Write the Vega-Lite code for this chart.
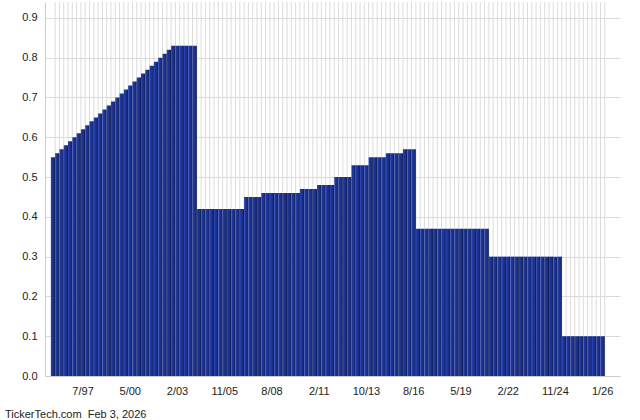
{
  "$schema": "https://vega.github.io/schema/vega-lite/v6.json",
  "width": 575,
  "height": 374,
  "autosize": {"type": "none"},
  "padding": {"left": 45, "top": 2, "right": 20, "bottom": 44},
  "background": "#ffffff",
  "config": {
    "view": {"stroke": null},
    "font": "Liberation Sans",
    "axis": {"labelFont": "Liberation Sans", "labelFontSize": 11, "labelColor": "#222222"}
  },
  "title": {
    "text": "TickerTech.com \u00a0Feb 3, 2026",
    "orient": "bottom",
    "anchor": "start",
    "frame": "group",
    "dx": -40,
    "offset": 13,
    "fontSize": 11,
    "fontWeight": "normal",
    "font": "Liberation Sans",
    "color": "#222222"
  },
  "data": {
    "values": [
      {"i": 0, "v": 0.55}, {"i": 1, "v": 0.56}, {"i": 2, "v": 0.57}, {"i": 3, "v": 0.58},
      {"i": 4, "v": 0.59}, {"i": 5, "v": 0.60}, {"i": 6, "v": 0.61}, {"i": 7, "v": 0.62},
      {"i": 8, "v": 0.63}, {"i": 9, "v": 0.64}, {"i": 10, "v": 0.65}, {"i": 11, "v": 0.66},
      {"i": 12, "v": 0.67}, {"i": 13, "v": 0.68}, {"i": 14, "v": 0.69}, {"i": 15, "v": 0.70},
      {"i": 16, "v": 0.71}, {"i": 17, "v": 0.72}, {"i": 18, "v": 0.73}, {"i": 19, "v": 0.74},
      {"i": 20, "v": 0.75}, {"i": 21, "v": 0.76}, {"i": 22, "v": 0.77}, {"i": 23, "v": 0.78},
      {"i": 24, "v": 0.79}, {"i": 25, "v": 0.80}, {"i": 26, "v": 0.81}, {"i": 27, "v": 0.82},
      {"i": 28, "v": 0.83}, {"i": 29, "v": 0.83}, {"i": 30, "v": 0.83}, {"i": 31, "v": 0.83},
      {"i": 32, "v": 0.83}, {"i": 33, "v": 0.83},
      {"i": 34, "v": 0.42}, {"i": 35, "v": 0.42}, {"i": 36, "v": 0.42}, {"i": 37, "v": 0.42},
      {"i": 38, "v": 0.42}, {"i": 39, "v": 0.42}, {"i": 40, "v": 0.42}, {"i": 41, "v": 0.42},
      {"i": 42, "v": 0.42}, {"i": 43, "v": 0.42}, {"i": 44, "v": 0.42},
      {"i": 45, "v": 0.45}, {"i": 46, "v": 0.45}, {"i": 47, "v": 0.45}, {"i": 48, "v": 0.45},
      {"i": 49, "v": 0.46}, {"i": 50, "v": 0.46}, {"i": 51, "v": 0.46}, {"i": 52, "v": 0.46},
      {"i": 53, "v": 0.46}, {"i": 54, "v": 0.46}, {"i": 55, "v": 0.46}, {"i": 56, "v": 0.46},
      {"i": 57, "v": 0.46},
      {"i": 58, "v": 0.47}, {"i": 59, "v": 0.47}, {"i": 60, "v": 0.47}, {"i": 61, "v": 0.47},
      {"i": 62, "v": 0.48}, {"i": 63, "v": 0.48}, {"i": 64, "v": 0.48}, {"i": 65, "v": 0.48},
      {"i": 66, "v": 0.50}, {"i": 67, "v": 0.50}, {"i": 68, "v": 0.50}, {"i": 69, "v": 0.50},
      {"i": 70, "v": 0.53}, {"i": 71, "v": 0.53}, {"i": 72, "v": 0.53}, {"i": 73, "v": 0.53},
      {"i": 74, "v": 0.55}, {"i": 75, "v": 0.55}, {"i": 76, "v": 0.55}, {"i": 77, "v": 0.55},
      {"i": 78, "v": 0.56}, {"i": 79, "v": 0.56}, {"i": 80, "v": 0.56}, {"i": 81, "v": 0.56},
      {"i": 82, "v": 0.57}, {"i": 83, "v": 0.57}, {"i": 84, "v": 0.57},
      {"i": 85, "v": 0.37}, {"i": 86, "v": 0.37}, {"i": 87, "v": 0.37}, {"i": 88, "v": 0.37},
      {"i": 89, "v": 0.37}, {"i": 90, "v": 0.37}, {"i": 91, "v": 0.37}, {"i": 92, "v": 0.37},
      {"i": 93, "v": 0.37}, {"i": 94, "v": 0.37}, {"i": 95, "v": 0.37}, {"i": 96, "v": 0.37},
      {"i": 97, "v": 0.37}, {"i": 98, "v": 0.37}, {"i": 99, "v": 0.37}, {"i": 100, "v": 0.37},
      {"i": 101, "v": 0.37},
      {"i": 102, "v": 0.30}, {"i": 103, "v": 0.30}, {"i": 104, "v": 0.30}, {"i": 105, "v": 0.30},
      {"i": 106, "v": 0.30}, {"i": 107, "v": 0.30}, {"i": 108, "v": 0.30}, {"i": 109, "v": 0.30},
      {"i": 110, "v": 0.30}, {"i": 111, "v": 0.30}, {"i": 112, "v": 0.30}, {"i": 113, "v": 0.30},
      {"i": 114, "v": 0.30}, {"i": 115, "v": 0.30}, {"i": 116, "v": 0.30}, {"i": 117, "v": 0.30},
      {"i": 118, "v": 0.30},
      {"i": 119, "v": 0.10}, {"i": 120, "v": 0.10}, {"i": 121, "v": 0.10}, {"i": 122, "v": 0.10},
      {"i": 123, "v": 0.10}, {"i": 124, "v": 0.10}, {"i": 125, "v": 0.10}, {"i": 126, "v": 0.10},
      {"i": 127, "v": 0.10}, {"i": 128, "v": 0.10}
    ]
  },
  "layer": [
    {
      "mark": {"type": "rule", "color": "#dcdcdc", "strokeWidth": 1},
      "encoding": {
        "x": {
          "field": "i", "type": "ordinal", "bandPosition": 1,
          "scale": {"type": "band", "paddingInner": 0, "paddingOuter": 0.45, "align": 0.4,
            "domain": [-1,0,1,2,3,4,5,6,7,8,9,10,11,12,13,14,15,16,17,18,19,20,21,22,23,24,25,26,27,28,29,30,31,32,33,34,35,36,37,38,39,40,41,42,43,44,45,46,47,48,49,50,51,52,53,54,55,56,57,58,59,60,61,62,63,64,65,66,67,68,69,70,71,72,73,74,75,76,77,78,79,80,81,82,83,84,85,86,87,88,89,90,91,92,93,94,95,96,97,98,99,100,101,102,103,104,105,106,107,108,109,110,111,112,113,114,115,116,117,118,119,120,121,122,123,124,125,126,127,128,129,130,131]},
          "axis": {
            "values": [7, 18, 29, 40, 51, 62, 73, 84, 95, 106, 117, 128],
            "labelExpr": "({'7':'7/97','18':'5/00','29':'2/03','40':'11/05','51':'8/08','62':'2/11','73':'10/13','84':'8/16','95':'5/19','106':'2/22','117':'11/24','128':'1/26'})[datum.label]",
            "labelAngle": 0, "ticks": false, "grid": false, "title": null,
            "domainColor": "#cccccc", "labelPadding": 9
          }
        }
      }
    },
    {
      "mark": {
        "type": "bar",
        "color": {
          "gradient": "linear", "x1": 0, "y1": 0, "x2": 1, "y2": 0,
          "stops": [
            {"offset": 0, "color": "#2a48c0"},
            {"offset": 0.28, "color": "#1f3797"},
            {"offset": 0.7, "color": "#1a2c7e"},
            {"offset": 1, "color": "#0e194a"}
          ]
        }
      },
      "encoding": {
        "x": {
          "field": "i", "type": "ordinal",
          "scale": {"type": "band", "paddingInner": 0, "paddingOuter": 0.45, "align": 0.4,
            "domain": [-1,0,1,2,3,4,5,6,7,8,9,10,11,12,13,14,15,16,17,18,19,20,21,22,23,24,25,26,27,28,29,30,31,32,33,34,35,36,37,38,39,40,41,42,43,44,45,46,47,48,49,50,51,52,53,54,55,56,57,58,59,60,61,62,63,64,65,66,67,68,69,70,71,72,73,74,75,76,77,78,79,80,81,82,83,84,85,86,87,88,89,90,91,92,93,94,95,96,97,98,99,100,101,102,103,104,105,106,107,108,109,110,111,112,113,114,115,116,117,118,119,120,121,122,123,124,125,126,127,128,129,130,131]},
          "axis": {
            "values": [7, 18, 29, 40, 51, 62, 73, 84, 95, 106, 117, 128],
            "labelExpr": "({'7':'7/97','18':'5/00','29':'2/03','40':'11/05','51':'8/08','62':'2/11','73':'10/13','84':'8/16','95':'5/19','106':'2/22','117':'11/24','128':'1/26'})[datum.label]",
            "labelAngle": 0, "ticks": false, "grid": false, "title": null,
            "domainColor": "#cccccc", "labelPadding": 9
          }
        },
        "y": {
          "field": "v", "type": "quantitative",
          "scale": {"domain": [0, 0.94], "nice": false, "zero": true},
          "axis": {
            "values": [0, 0.1, 0.2, 0.3, 0.4, 0.5, 0.6, 0.7, 0.8, 0.9],
            "format": ".1f", "title": null, "ticks": false, "labelPadding": 8,
            "grid": true, "gridColor": "#dadada", "gridWidth": 1,
            "domainColor": "#cccccc"
          }
        }
      }
    }
  ]
}
